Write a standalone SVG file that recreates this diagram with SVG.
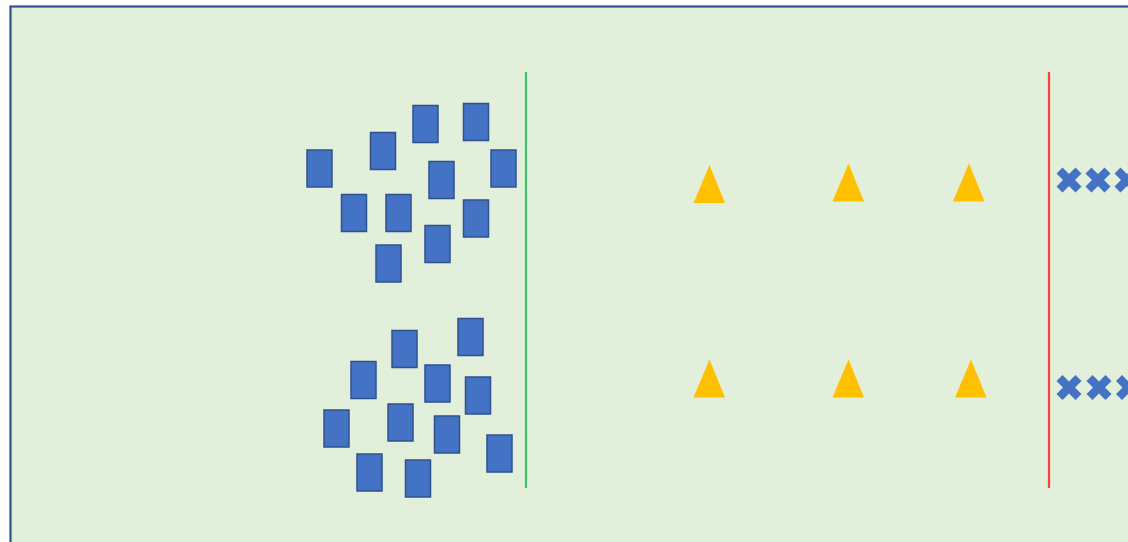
<svg xmlns="http://www.w3.org/2000/svg" xmlns:xlink="http://www.w3.org/1999/xlink" width="1128" height="542" viewBox="0 0 1128 542">
<style>
.bg{fill:#E2EFDA;stroke:#2F528F;stroke-width:2.2}
.box{fill:#4472C4;stroke:#2F528F;stroke-width:1.5}
.tri{fill:#FFC000}
.x{fill:#4472C4}
</style>
<defs>
<rect id="r" class="box" width="25" height="37"/>
<polygon id="t" class="tri" points="16,0 31.5,38 0,38"/>
<polygon id="c" class="x" points="0,6 6,0 12.5,6.5 19,0 25,6 18.5,12.5 25,19 19,25 12.5,18.5 6,25 0,19 6.5,12.5"/>
</defs>
<rect width="1128" height="542" fill="#FFFFFF"/>
<rect class="bg" x="10.5" y="6.5" width="1130" height="550"/>
<g id="connectors">
<line x1="526" y1="72" x2="526" y2="488" stroke="#3CC36A" stroke-width="2.2"/>
<line x1="1049" y1="72" x2="1049" y2="488" stroke="#FF4040" stroke-width="2.2"/>
</g>
<g id="group-top">
<use xlink:href="#r" x="307" y="150"/>
<use xlink:href="#r" x="370.5" y="132.5"/>
<use xlink:href="#r" x="413" y="105.5"/>
<use xlink:href="#r" x="463.5" y="103.5"/>
<use xlink:href="#r" x="491" y="150"/>
<use xlink:href="#r" x="429" y="161.5"/>
<use xlink:href="#r" x="341.5" y="194.5"/>
<use xlink:href="#r" x="386" y="194.5"/>
<use xlink:href="#r" x="463.5" y="200"/>
<use xlink:href="#r" x="425" y="225.5"/>
<use xlink:href="#r" x="376" y="245"/>
</g>
<g id="group-bottom">
<use xlink:href="#r" x="392" y="330.5"/>
<use xlink:href="#r" x="458" y="318.5"/>
<use xlink:href="#r" x="351" y="361.5"/>
<use xlink:href="#r" x="425" y="365"/>
<use xlink:href="#r" x="465.5" y="377"/>
<use xlink:href="#r" x="324" y="410"/>
<use xlink:href="#r" x="388" y="404"/>
<use xlink:href="#r" x="434.5" y="416"/>
<use xlink:href="#r" x="487" y="435"/>
<use xlink:href="#r" x="357" y="454"/>
<use xlink:href="#r" x="405.5" y="460"/>
</g>
<g id="triangles-top">
<use xlink:href="#t" x="693.5" y="165"/>
<use xlink:href="#t" x="832.5" y="163.5"/>
<use xlink:href="#t" x="953" y="163.5"/>
</g>
<g id="triangles-bottom">
<use xlink:href="#t" x="693.5" y="359.5"/>
<use xlink:href="#t" x="832.5" y="359.5"/>
<use xlink:href="#t" x="955" y="359.5"/>
</g>
<g id="crosses-top">
<use xlink:href="#c" x="1056.5" y="167.5"/>
<use xlink:href="#c" x="1085.5" y="167.5"/>
<use xlink:href="#c" x="1114.5" y="167.5"/>
</g>
<g id="crosses-bottom">
<use xlink:href="#c" x="1056.5" y="375"/>
<use xlink:href="#c" x="1086.5" y="375"/>
<use xlink:href="#c" x="1116" y="375"/>
</g>
</svg>
